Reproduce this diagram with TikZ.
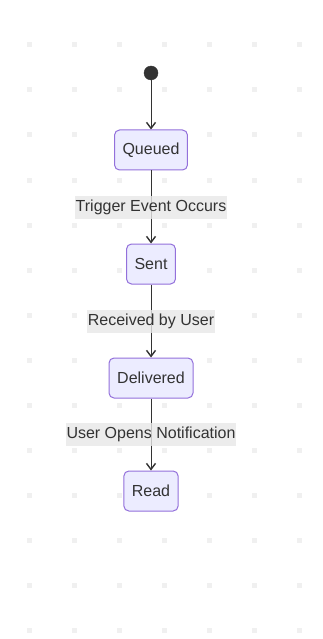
\documentclass[tikz,border=0pt]{standalone}
\usepackage{fontspec}
\setmainfont{Liberation Sans}
\usetikzlibrary{arrows.meta}
\definecolor{statefill}{HTML}{ECECFF}
\definecolor{stateline}{HTML}{9370DB}
\definecolor{ink}{HTML}{333333}
\definecolor{edgebg}{HTML}{E8E8E8}
\definecolor{griddot}{HTML}{F0F0F0}
\tikzset{state/.style={ink,draw=stateline,line width=1pt,fill=statefill,rectangle,rounded corners=5pt,minimum height=40pt,inner xsep=8pt,font=\fontsize{16}{19}\selectfont}}
\tikzset{start/.style={circle,fill=ink,draw=ink,minimum size=14pt,inner sep=0pt}}
\tikzset{edgelabel/.style={ink,fill=edgebg,fill opacity=0.8,text opacity=1,inner sep=1pt,minimum height=23pt,font=\fontsize{16}{19}\selectfont}}
\tikzset{trans/.style={ink,line width=1pt,-{Straight Barb[length=6pt,width=9pt,line width=1.4pt]}}}

\begin{document}
\begin{tikzpicture}[x=1pt,y=-1pt]
    \useasboundingbox[fill=white] (0,0) rectangle (322,639);

    % dotted background
    \foreach \gx in {29,74,...,299}
      \foreach \gy in {45,90,...,630}
        \fill[griddot] (\gx-2.5,\gy-2.5) rectangle (\gx+2.5,\gy+2.5);

    \node[start] (init) at (151,73) {};

    \node[state,minimum width=71pt] (queued) at (151,150) {Queued};

    \node[state,minimum width=47pt] (sent) at (151,264) {Sent};

    \node[state,minimum width=84pt] (delivered) at (151,378) {Delivered};

    \node[state,minimum width=50pt] (read) at (151,491) {Read};

    \draw[trans] (init) -- (queued);
    \draw[trans] (queued) -- node[edgelabel] (lbl1) {Trigger Event Occurs} (sent);
    \draw[trans] (sent) -- node[edgelabel] (lbl2) {Received by User} (delivered);
    \draw[trans] (delivered) -- node[edgelabel] (lbl3) {User Opens Notification} (read);

  \end{tikzpicture}
\end{document}
